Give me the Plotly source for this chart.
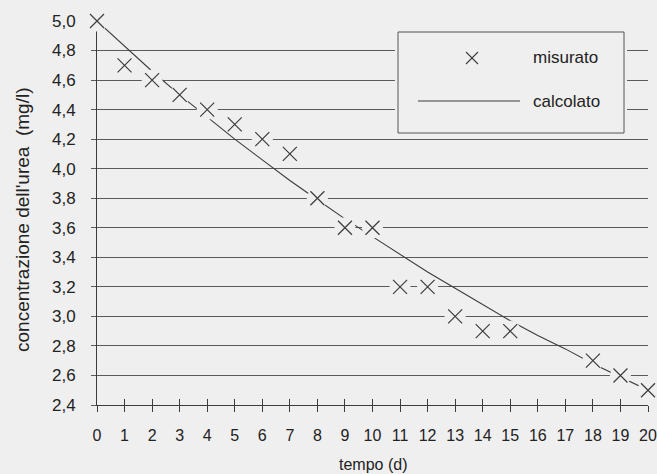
import plotly.graph_objects as go

# ---- data ----
tick_days = list(range(0, 21))
measured_days = [0, 1, 2, 3, 4, 5, 6, 7, 8, 9, 10, 11, 12, 13, 14, 15, 18, 19, 20]
measured_conc = [5.0, 4.7, 4.6, 4.5, 4.4, 4.3, 4.2, 4.1, 3.8, 3.6, 3.6,
                 3.2, 3.2, 3.0, 2.9, 2.9, 2.7, 2.6, 2.5]
calc_days = list(range(0, 21))
calc_conc = [5.00, 4.83, 4.66, 4.50, 4.35, 4.20, 4.06, 3.92, 3.79, 3.66, 3.54,
             3.42, 3.30, 3.19, 3.08, 2.97, 2.87, 2.78, 2.68, 2.59, 2.50]
y_ticks = [2.4, 2.6, 2.8, 3.0, 3.2, 3.4, 3.6, 3.8, 4.0, 4.2, 4.4, 4.6, 4.8, 5.0]
legend_labels = ["misurato", "calcolato"]
x_title = "tempo (d)"
y_title = "concentrazione dell'urea\u00a0\u00a0(mg/l)"

BG = "#efefef"
INK = "#3c3c3c"
GRID = "#5a5a5a"
FONT = "Liberation Sans, Arial, sans-serif"

W, H = 657, 474
L, R, T, B = 97, 9, 21, 69
PW, PH = W - L - R, H - T - B


def px(x):
    return (x - L) / PW


def py(y):
    return (H - B - y) / PH


fig = go.Figure()

# calculated curve
fig.add_trace(go.Scatter(x=calc_days, y=calc_conc, mode="lines",
                         line=dict(color=INK, width=1.1), cliponaxis=False,
                         showlegend=False, hoverinfo="skip"))
# background halos around crosses (gaps in lines)
fig.add_trace(go.Scatter(x=measured_days, y=measured_conc, mode="markers",
                         marker=dict(symbol="circle", size=21, color=BG,
                                     line=dict(width=0)),
                         xaxis="x2", cliponaxis=False, showlegend=False,
                         hoverinfo="skip"))
# measured crosses
fig.add_trace(go.Scatter(x=measured_days, y=measured_conc, mode="markers",
                         marker=dict(symbol="x-thin-open", size=14, color=INK,
                                     line=dict(color=INK, width=1.2)),
                         xaxis="x2", cliponaxis=False, showlegend=False))

# ---- manual legend ----
shapes = [
    dict(type="rect", xref="paper", yref="paper",
         x0=px(395), x1=px(627), y0=py(29), y1=py(136),
         fillcolor=BG, line=dict(width=0), layer="above"),
    dict(type="rect", xref="paper", yref="paper",
         x0=px(398), x1=px(624), y0=py(32), y1=py(133),
         fillcolor=BG, line=dict(color="#555555", width=1), layer="above"),
    dict(type="line", xref="paper", yref="paper",
         x0=px(418), x1=px(520), y0=py(101), y1=py(101),
         line=dict(color=INK, width=1), layer="above"),
    dict(type="line", xref="paper", yref="paper",
         x0=px(466), x1=px(478), y0=py(52), y1=py(64),
         line=dict(color=INK, width=1.1), layer="above"),
    dict(type="line", xref="paper", yref="paper",
         x0=px(466), x1=px(478), y0=py(64), y1=py(52),
         line=dict(color=INK, width=1.1), layer="above"),
]

annotations = [
    dict(text=legend_labels[0], xref="paper", yref="paper", x=px(531), y=py(58),
         xanchor="left", yanchor="middle", showarrow=False,
         font=dict(size=17, color="#222", family=FONT)),
    dict(text=legend_labels[1], xref="paper", yref="paper", x=px(531), y=py(101),
         xanchor="left", yanchor="middle", showarrow=False,
         font=dict(size=17, color="#222", family=FONT)),
    dict(text=x_title, xref="paper", yref="paper", x=0.5, y=0,
         xanchor="center", yanchor="middle", yshift=-59, showarrow=False,
         font=dict(size=16, color="#222", family=FONT)),
    dict(text=y_title, xref="paper", yref="paper", x=0, y=0.5,
         xanchor="center", yanchor="middle", xshift=-75, yshift=-7,
         textangle=-90, showarrow=False,
         font=dict(size=19, color="#222", family=FONT)),
]

fig.update_layout(
    width=W, height=H,
    margin=dict(l=L, r=R, t=T, b=B, pad=0),
    paper_bgcolor=BG, plot_bgcolor=BG,
    separators=",.",
    font=dict(family=FONT, color="#222", size=16),
    showlegend=False,
    shapes=shapes, annotations=annotations,
    xaxis=dict(range=[0, 20], tickvals=tick_days, ticks="inside", ticklen=6,
               tickcolor=INK, tickwidth=1, showgrid=False, zeroline=False,
               showline=True, linecolor=INK, linewidth=1, layer="below traces",
               tickfont=dict(size=16, color="#222"), ticklabelstandoff=16,
               automargin=False, fixedrange=True),
    xaxis2=dict(overlaying="x", matches="x", range=[0, 20], tickvals=tick_days,
                ticks="outside", ticklen=6, tickcolor=INK, tickwidth=1,
                showticklabels=False, showgrid=False, zeroline=False,
                showline=False, side="bottom", layer="below traces",
                anchor="y", automargin=False),
    yaxis=dict(range=[2.4, 5.0], tickvals=y_ticks, tickformat=".1f",
               ticks="outside", ticklen=5, tickcolor=GRID, tickwidth=1,
               showgrid=True, gridcolor=GRID, gridwidth=1, zeroline=False,
               showline=True, linecolor=INK, linewidth=1, layer="below traces",
               tickfont=dict(size=17, color="#222"), ticklabelstandoff=12,
               automargin=False, fixedrange=True),
)

fig.write_html("out.html", config={"displayModeBar": False},
               post_script="document.body.style.margin='0';"
                           "document.body.style.overflow='hidden';")
